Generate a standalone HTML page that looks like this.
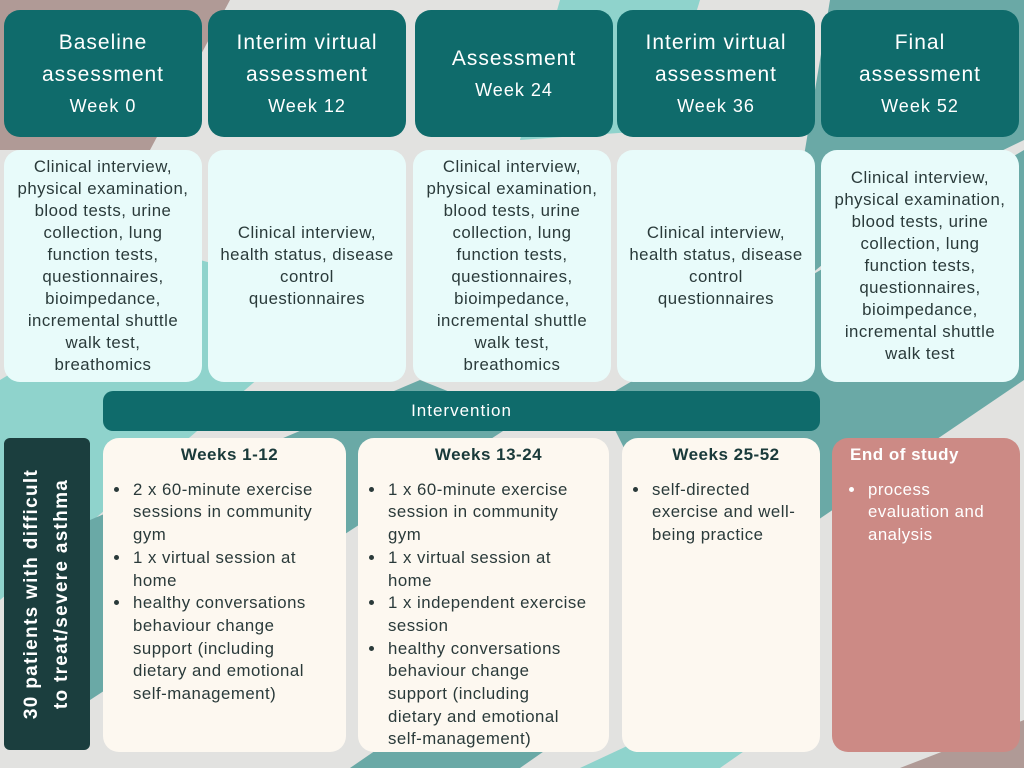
<!DOCTYPE html>
<html><head><meta charset="utf-8"><style>
body{margin:0;width:1024px;height:768px;position:relative;overflow:hidden;background:#e2e2e0;font-family:"Liberation Sans",sans-serif}
.b{position:absolute;box-sizing:border-box;border-radius:16px}
.h{background:#0f6b6b;color:#fff;text-align:center;font-size:21px;line-height:32px;display:flex;flex-direction:column;justify-content:center;letter-spacing:1px}
.h small{font-size:18px;line-height:30px}
.c{background:#e8fbfa;color:#2a3a3a;text-align:center;font-size:16.8px;line-height:22px;display:flex;align-items:center;justify-content:center;padding:0;letter-spacing:0.5px;white-space:nowrap}
.w{background:#fdf8f0;color:#2a3a3a;font-size:16.8px;line-height:22.7px;padding:6px 2px 0 12px;letter-spacing:0.5px;white-space:nowrap}
.w h3{margin:0 0 12px;text-align:center;font-size:17px;color:#1a3a3a;letter-spacing:0.5px}
.w ul{margin:0;padding-left:16px}
.w li{padding-left:2px}
</style></head><body>
<svg width="1024" height="768" style="position:absolute;left:0;top:0">
<polygon points="0,0 230,0 150,150 0,150" fill="#b09a96"/>
<polygon points="560,0 700,0 660,130 520,140" fill="#8fd3cc"/>
<polygon points="830,0 1024,0 1024,140 900,200 780,300" fill="#6aa9a6"/>
<polygon points="0,380 200,260 350,300 0,600" fill="#8fd3cc"/>
<polygon points="90,520 420,380 520,420 90,700" fill="#6aa9a6"/>
<polygon points="600,400 1024,150 1024,380 700,600" fill="#6aa9a6"/>
<polygon points="350,768 420,720 560,740 520,768" fill="#6aa9a6"/>
<polygon points="580,768 640,740 760,740 720,768" fill="#8fd3cc"/>
<polygon points="900,768 1024,720 1024,768" fill="#b09a96"/>
</svg>
<div class="b h" style="left:4px;top:10px;width:198px;height:127px">Baseline<br>assessment<small>Week 0</small></div>
<div class="b h" style="left:208px;top:10px;width:198px;height:127px">Interim virtual<br>assessment<small>Week 12</small></div>
<div class="b h" style="left:415px;top:10px;width:198px;height:127px">Assessment<small>Week 24</small></div>
<div class="b h" style="left:617px;top:10px;width:198px;height:127px">Interim virtual<br>assessment<small>Week 36</small></div>
<div class="b h" style="left:821px;top:10px;width:198px;height:127px">Final<br>assessment<small>Week 52</small></div>

<div class="b c" style="left:4px;top:150px;width:198px;height:232px"><div>Clinical interview,<br>physical examination,<br>blood tests, urine<br>collection, lung<br>function tests,<br>questionnaires,<br>bioimpedance,<br>incremental shuttle<br>walk test,<br>breathomics</div></div>
<div class="b c" style="left:208px;top:150px;width:198px;height:232px"><div>Clinical interview,<br>health status, disease<br>control<br>questionnaires</div></div>
<div class="b c" style="left:413px;top:150px;width:198px;height:232px"><div>Clinical interview,<br>physical examination,<br>blood tests, urine<br>collection, lung<br>function tests,<br>questionnaires,<br>bioimpedance,<br>incremental shuttle<br>walk test,<br>breathomics</div></div>
<div class="b c" style="left:617px;top:150px;width:198px;height:232px"><div>Clinical interview,<br>health status, disease<br>control<br>questionnaires</div></div>
<div class="b c" style="left:821px;top:150px;width:198px;height:232px"><div>Clinical interview,<br>physical examination,<br>blood tests, urine<br>collection, lung<br>function tests,<br>questionnaires,<br>bioimpedance,<br>incremental shuttle<br>walk test</div></div>

<div class="b" style="left:103px;top:391px;width:717px;height:40px;border-radius:10px;background:#0f6b6b;color:#fff;text-align:center;line-height:40px;font-size:17px;letter-spacing:1px">Intervention</div>

<div class="b" style="left:4px;top:438px;width:86px;height:312px;border-radius:6px;background:#1b3e3e">
<div style="position:absolute;left:43px;top:156px;width:310px;transform:translate(-50%,-50%) rotate(-90deg);color:#fff;font-weight:bold;font-size:19px;line-height:30px;text-align:center;letter-spacing:1.3px;white-space:nowrap">30 patients with difficult<br>to treat/severe asthma</div></div>

<div class="b w" style="left:103px;top:438px;width:243px;height:314px"><h3>Weeks 1-12</h3><ul><li>2 x 60-minute exercise<br>sessions in community<br>gym</li><li>1 x virtual session at<br>home</li><li>healthy conversations<br>behaviour change<br>support (including<br>dietary and emotional<br>self-management)</li></ul></div>
<div class="b w" style="left:358px;top:438px;width:251px;height:314px"><h3>Weeks 13-24</h3><ul><li>1 x 60-minute exercise<br>session in community<br>gym</li><li>1 x virtual session at<br>home</li><li>1 x independent exercise<br>session</li><li>healthy conversations<br>behaviour change<br>support (including<br>dietary and emotional<br>self-management)</li></ul></div>
<div class="b w" style="left:622px;top:438px;width:198px;height:314px"><h3>Weeks 25-52</h3><ul><li>self-directed<br>exercise and well-<br>being practice</li></ul></div>
<div class="b w" style="left:832px;top:438px;width:188px;height:314px;background:#cc8a85;color:#fff"><h3 style="color:#fff;text-align:left;padding-left:6px">End of study</h3><ul style="padding-left:22px"><li>process<br>evaluation and<br>analysis</li></ul></div>
</body></html>
